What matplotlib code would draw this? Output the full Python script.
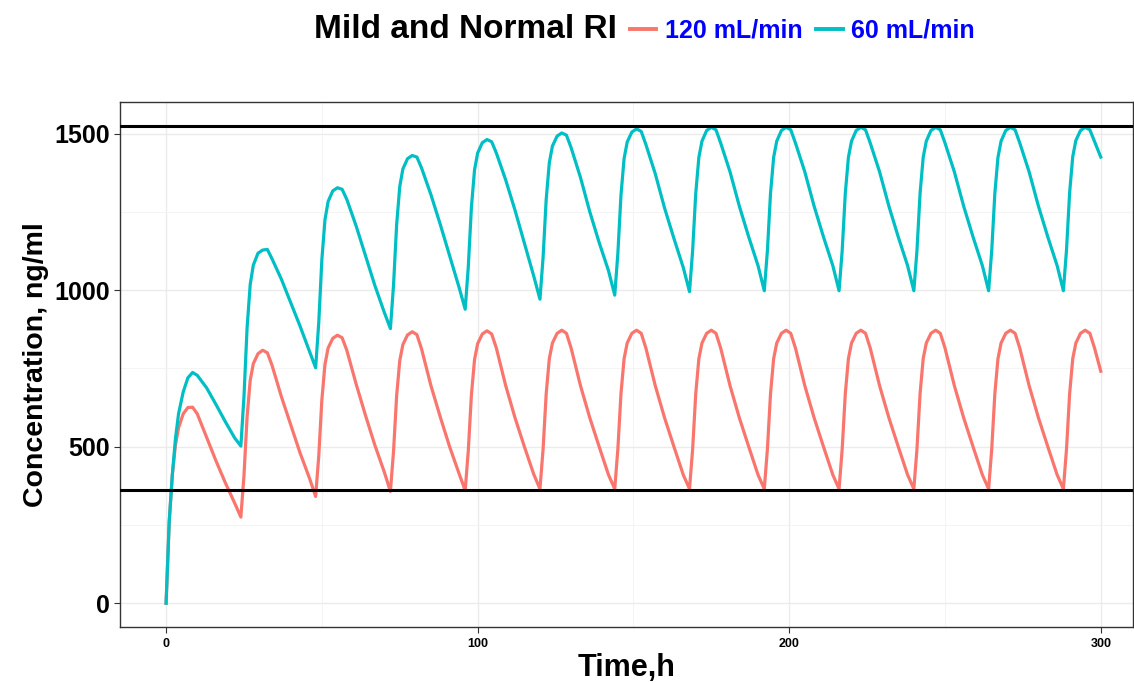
import numpy as np
import matplotlib
matplotlib.use('Agg')
import matplotlib.pyplot as plt
from matplotlib.lines import Line2D
from matplotlib.ticker import MultipleLocator

# Data: one row per 24 h dosing interval #######################################
dose_times = [0, 24, 48, 72, 96, 120, 144, 168, 192, 216, 240, 264, 288]
offsets = [0, 1, 2, 3, 4, 5.5, 7, 8.5, 10, 13, 16, 19, 22]
last_offsets = [0, 1, 2, 3, 4, 5.5, 7, 8.5, 10, 12]

conc_120 = [
    [0, 260, 410, 505, 560, 605, 625, 626, 605, 530, 455, 385, 320],
    [275, 408, 595, 712, 765, 797, 808, 800, 760, 660, 570, 480, 400],
    [341, 470, 650, 763, 815, 846, 856, 848, 808, 700, 600, 505, 420],
    [357, 485, 663, 775, 826, 857, 867, 858, 812, 695, 595, 500, 415],
    [360, 488, 666, 778, 829, 860, 870, 860, 815, 695, 592, 500, 412],
    [365, 492, 669, 781, 831, 862, 872, 862, 815, 695, 592, 500, 410],
    [365, 492, 669, 781, 831, 862, 872, 862, 815, 695, 592, 500, 410],
    [365, 492, 669, 781, 831, 862, 872, 862, 815, 695, 592, 500, 410],
    [365, 492, 669, 781, 831, 862, 872, 862, 815, 695, 592, 500, 410],
    [365, 492, 669, 781, 831, 862, 872, 862, 815, 695, 592, 500, 410],
    [365, 492, 669, 781, 831, 862, 872, 862, 815, 695, 592, 500, 410],
    [365, 492, 669, 781, 831, 862, 872, 862, 815, 695, 592, 500, 410],
    [365, 492, 669, 781, 831, 862, 872, 862, 815, 741],
]

conc_60 = [
    [0, 260, 410, 525, 605, 675, 720, 737, 728, 688, 635, 580, 528],
    [502, 660, 880, 1018, 1080, 1118, 1128, 1130, 1100, 1035, 960, 885, 805],
    [752, 896, 1098, 1225, 1283, 1317, 1327, 1322, 1290, 1205, 1110, 1015, 930],
    [877, 1016, 1209, 1331, 1387, 1420, 1430, 1425, 1390, 1305, 1210, 1110, 1010],
    [939, 1075, 1265, 1384, 1438, 1471, 1481, 1474, 1438, 1352, 1255, 1150, 1045],
    [971, 1104, 1290, 1407, 1460, 1492, 1502, 1495, 1455, 1360, 1250, 1152, 1062],
    [984, 1117, 1303, 1420, 1473, 1505, 1515, 1507, 1465, 1372, 1262, 1165, 1072],
    [995, 1126, 1309, 1424, 1476, 1510, 1520, 1512, 1470, 1378, 1268, 1170, 1078],
    [998, 1126, 1309, 1424, 1476, 1510, 1520, 1512, 1470, 1378, 1268, 1170, 1078],
    [998, 1126, 1309, 1424, 1476, 1510, 1520, 1512, 1470, 1378, 1268, 1170, 1078],
    [998, 1126, 1309, 1424, 1476, 1510, 1520, 1512, 1470, 1378, 1268, 1170, 1078],
    [998, 1126, 1309, 1424, 1476, 1510, 1520, 1512, 1470, 1378, 1268, 1170, 1078],
    [998, 1128, 1311, 1426, 1478, 1510, 1520, 1512, 1475, 1425],
]

upper_limit = 1525
lower_limit = 362
labels = ['120 mL/min', '60 mL/min']
colors = ['#F8766D', '#00BFC4']


def profile(rows):
    t, c = [], []
    for d, row in zip(dose_times, rows):
        offs = offsets if len(row) == len(offsets) else last_offsets
        t += [d + o for o in offs]
        c += row
    return np.array(t), np.array(c)


plt.rcParams['font.family'] = ['Liberation Sans', 'DejaVu Sans']
plt.rcParams['font.weight'] = 'bold'

fig = plt.figure(figsize=(11.34, 6.83), dpi=100)
ax = fig.add_axes([0.1058, 0.082, 0.8932, 0.7687])

for rows, col in zip([conc_120, conc_60], colors):
    t, c = profile(rows)
    ax.plot(t, c, color=col, lw=2.3, solid_joinstyle='round', zorder=3)

ax.axhline(upper_limit, color='black', lw=2.2, zorder=4)
ax.axhline(lower_limit, color='black', lw=2.2, zorder=4)

ax.set_xlim(-14.8, 310.3)
ax.set_ylim(-76, 1601)
ax.xaxis.set_major_locator(MultipleLocator(100))
ax.xaxis.set_minor_locator(MultipleLocator(50))
ax.yaxis.set_major_locator(MultipleLocator(500))
ax.yaxis.set_minor_locator(MultipleLocator(250))
ax.grid(which='major', color='#EBEBEB', lw=1.0, zorder=0)
ax.grid(which='minor', color='#F2F2F2', lw=0.6, zorder=0)
ax.set_axisbelow(True)
for s in ax.spines.values():
    s.set_color('#333333')
    s.set_linewidth(1.0)
ax.tick_params(axis='both', which='major', length=4, color='#333333', width=0.8)
ax.tick_params(axis='both', which='minor', length=0)
ax.tick_params(axis='y', labelsize=18, pad=3)
ax.tick_params(axis='x', labelsize=9, pad=4)
for lab in ax.get_xticklabels() + ax.get_yticklabels():
    lab.set_fontweight('bold')

ax.set_xlabel('Time,h', fontsize=22, fontweight='bold', labelpad=2)
ax.set_ylabel('Concentration, ng/ml', fontsize=20.5, fontweight='bold', labelpad=4)

# title and legend in one row at the top
fig.text(617 / 1134, 1 - 29 / 683, 'Mild and Normal RI', fontsize=24,
         fontweight='bold', ha='right', va='center')
handles = [Line2D([], [], color=c, lw=2.8) for c in colors]
fig.legend(handles, labels, loc='center left', bbox_to_anchor=(630 / 1134, 1 - 31 / 683),
           ncol=2, frameon=False, labelcolor='blue',
           handlelength=1.05, handletextpad=0.35, columnspacing=0.55,
           borderaxespad=0, borderpad=0,
           prop={'weight': 'bold', 'size': 18})

fig.savefig('out.png', dpi=100)
